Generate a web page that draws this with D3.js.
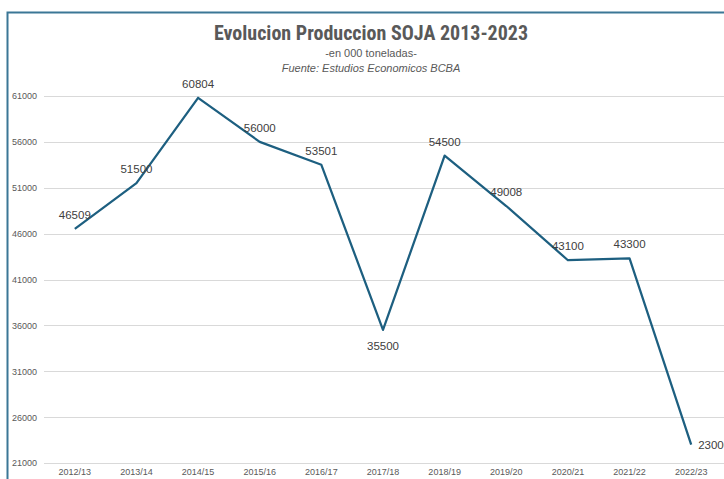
<!DOCTYPE html>
<html>
<head>
<meta charset="utf-8">
<script src="https://cdn.jsdelivr.net/npm/d3@7"></script>
<style>
  body { margin: 0; background: #fff; }
  svg { display: block; }
</style>
</head>
<body>
<div id="chart"></div>
<script>
// data
var campaigns = ["2012/13", "2013/14", "2014/15", "2015/16", "2016/17", "2017/18",
                 "2018/19", "2019/20", "2020/21", "2021/22", "2022/23"];
var production = [46509, 51500, 60804, 56000, 53501, 35500, 54500, 49008, 43100, 43300, 23000];
var yTicks = [21000, 26000, 31000, 36000, 41000, 46000, 51000, 56000, 61000];
// where each label sits relative to its point
var labelPos = ["top", "top", "top", "top", "top", "bottom", "top", "top", "top", "top", "right"];

var width = 724, height = 479;
var lineColor = "#1d5f80";

var svg = d3.select("#chart").append("svg")
    .attr("width", width)
    .attr("height", height);

// frame of the pasted chart (right and bottom are cut off)
svg.append("path")
    .attr("d", "M7.5," + height + "V12.5H" + width)
    .attr("fill", "none")
    .attr("stroke", "#3b7796")
    .attr("stroke-width", 2);

var x = d3.scaleBand()
    .domain(campaigns)
    .range([44, 722]);

var y = d3.scaleLinear()
    .domain([21000, 61000])
    .range([463, 96]);

// gridlines
svg.append("g")
  .selectAll("line")
  .data(yTicks)
  .enter().append("line")
    .attr("x1", 44)
    .attr("x2", width)
    .attr("y1", function(d) { return Math.round(y(d)) + 0.5; })
    .attr("y2", function(d) { return Math.round(y(d)) + 0.5; })
    .attr("stroke", "#d9d9d9")
    .attr("stroke-width", 1);

// y axis labels
var yAxis = d3.axisLeft(y).tickValues(yTicks).tickFormat(d3.format("d")).tickSize(0).tickPadding(7);
var gy = svg.append("g").attr("transform", "translate(44,0)").call(yAxis);
gy.select(".domain").remove();
gy.selectAll("text")
    .attr("fill", "#595959")
    .style("font-family", "'Liberation Sans', Arial, sans-serif")
    .style("font-size", "9px");

// x axis labels
var xAxis = d3.axisBottom(x).tickSize(0).tickPadding(6);
var gx = svg.append("g").attr("transform", "translate(0,463)").call(xAxis);
gx.select(".domain").remove();
gx.selectAll("text")
    .attr("fill", "#595959")
    .style("font-family", "'Liberation Sans', Arial, sans-serif")
    .style("font-size", "9px");

// line
var line = d3.line()
    .x(function(d, i) { return x(campaigns[i]) + x.bandwidth() / 2; })
    .y(function(d) { return y(d); });

svg.append("path")
    .datum(production)
    .attr("d", line)
    .attr("fill", "none")
    .attr("stroke", lineColor)
    .attr("stroke-width", 2.25)
    .attr("stroke-linejoin", "round");

// data labels
svg.append("g")
  .selectAll("text")
  .data(production)
  .enter().append("text")
    .attr("x", function(d, i) {
      var cx = x(campaigns[i]) + x.bandwidth() / 2;
      return labelPos[i] == "right" ? cx + 7 : cx;
    })
    .attr("y", function(d, i) {
      var cy = y(d);
      if (labelPos[i] == "bottom") return cy + 20;
      if (labelPos[i] == "right") return cy + 4;
      return cy - 10;
    })
    .attr("text-anchor", function(d, i) { return labelPos[i] == "right" ? "start" : "middle"; })
    .attr("fill", "#404040")
    .style("font-family", "'Liberation Sans', Arial, sans-serif")
    .style("font-size", "11.5px")
    .text(function(d) { return d; });

// titles
svg.append("text")
    .attr("x", 371)
    .attr("y", 40)
    .attr("text-anchor", "middle")
    .attr("fill", "#595959")
    .style("font-family", "'Liberation Sans Narrow', 'Roboto Condensed', sans-serif")
    .style("font-weight", "bold")
    .style("font-size", "20px")
    .text("Evolucion Produccion SOJA 2013-2023");

svg.append("text")
    .attr("x", 371)
    .attr("y", 57)
    .attr("text-anchor", "middle")
    .attr("fill", "#595959")
    .style("font-family", "'Liberation Sans Narrow', sans-serif")
    .style("font-size", "11px")
    .text("-en 000 toneladas-");

svg.append("text")
    .attr("x", 371)
    .attr("y", 72)
    .attr("text-anchor", "middle")
    .attr("fill", "#595959")
    .style("font-family", "'Liberation Sans Narrow', sans-serif")
    .style("font-style", "italic")
    .style("font-size", "11px")
    .text("Fuente: Estudios Economicos BCBA");
</script>
</body>
</html>
